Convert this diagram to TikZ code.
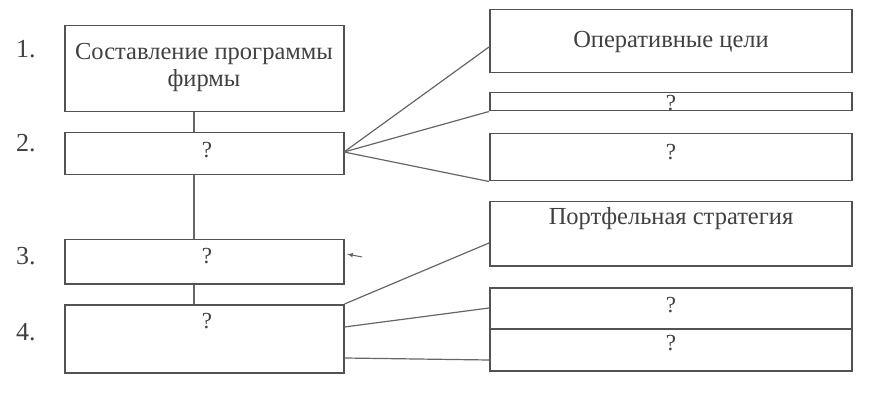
\documentclass[tikz,border=0pt]{standalone}
\usepackage{fontspec}
\setmainfont{Liberation Serif}
\begin{document}
\begin{tikzpicture}[x=1pt,y=-1pt,
  box/.style={draw=black!68,line width=1.5pt,rectangle,anchor=north west,inner sep=0pt},
  conn/.style={draw=black!60,line width=1.2pt},
  txt/.style={text=black!75,font=\fontsize{24.5}{27}\selectfont,inner sep=0pt,align=center},
  qm/.style={text=black!75,font=\fontsize{23}{26}\selectfont,inner sep=0pt},
  num/.style={text=black!75,font=\fontsize{26}{30}\selectfont,inner sep=0pt,anchor=base west}]
\useasboundingbox (0,0) rectangle (872,403);
% left column
\node[box,minimum width=279pt,minimum height=86pt] (b1) at (64,25) {};
\node[box,minimum width=279pt,minimum height=42pt] (b2) at (64,132) {};
\node[box,minimum width=279pt,minimum height=44pt] (b3) at (64,239) {};
\node[box,minimum width=279pt,minimum height=68pt] (b4) at (64,304) {};
\node[txt] (t1) at (204,67) {Составление программы\\фирмы};
\node[qm] (t2) at (207,150) {?};
\node[qm] (t3) at (207,256) {?};
\node[qm] (t4) at (207,321) {?};
\node[num] (n1) at (16,58) {1.};
\node[num] (n2) at (16,152) {2.};
\node[num] (n3) at (16,265) {3.};
\node[num] (n4) at (16,340) {4.};
% right column
\node[box,minimum width=362pt,minimum height=63pt] (r1) at (489,9) {};
\node[box,minimum width=362pt,minimum height=18pt] (r2) at (489,92) {};
\node[box,minimum width=362pt,minimum height=47pt] (r3) at (489,133) {};
\node[box,minimum width=362pt,minimum height=64pt] (r4) at (489,201) {};
\node[box,minimum width=362pt,minimum height=41pt] (r5) at (489,287) {};
\node[box,minimum width=362pt,minimum height=42pt] (r6) at (489,328) {};
\node[txt] (s1) at (671,42) {Оперативные цели};
\node[qm] (s2) at (671,103) {?};
\node[qm] (s3) at (671,152) {?};
\node[txt] (s4) at (671,219) {Портфельная стратегия};
\node[qm] (s5) at (671,305) {?};
\node[qm] (s6) at (671,343) {?};
% vertical connectors
\draw[conn] (b1.south -| 194,0) -- (b2.north -| 194,0);
\draw[conn] (b2.south -| 194,0) -- (b3.north -| 194,0);
\draw[conn] (b3.south -| 194,0) -- (b4.north -| 194,0);
% fan from box 2
\coordinate (f2) at (344,152);
\draw[conn] (f2) -- (r1.west |- 0,47);
\draw[conn] (f2) -- (r2.south west);
\draw[conn] (f2) -- (r3.south west);
% fan from box 4
\draw[conn] (b4.north east) -- (r4.west |- 0,243);
\draw[conn] (b4.east |- 0,327) -- (r5.west |- 0,308);
\draw[conn] (b4.east |- 0,358) -- (r6.west |- 0,360);
% small arrow mark near box 3
\coordinate (a1) at (362,257);
\coordinate (a2) at (347,254);
\draw[conn,-latex,line width=1pt] (a1) -- (a2);
\end{tikzpicture}
\end{document}
